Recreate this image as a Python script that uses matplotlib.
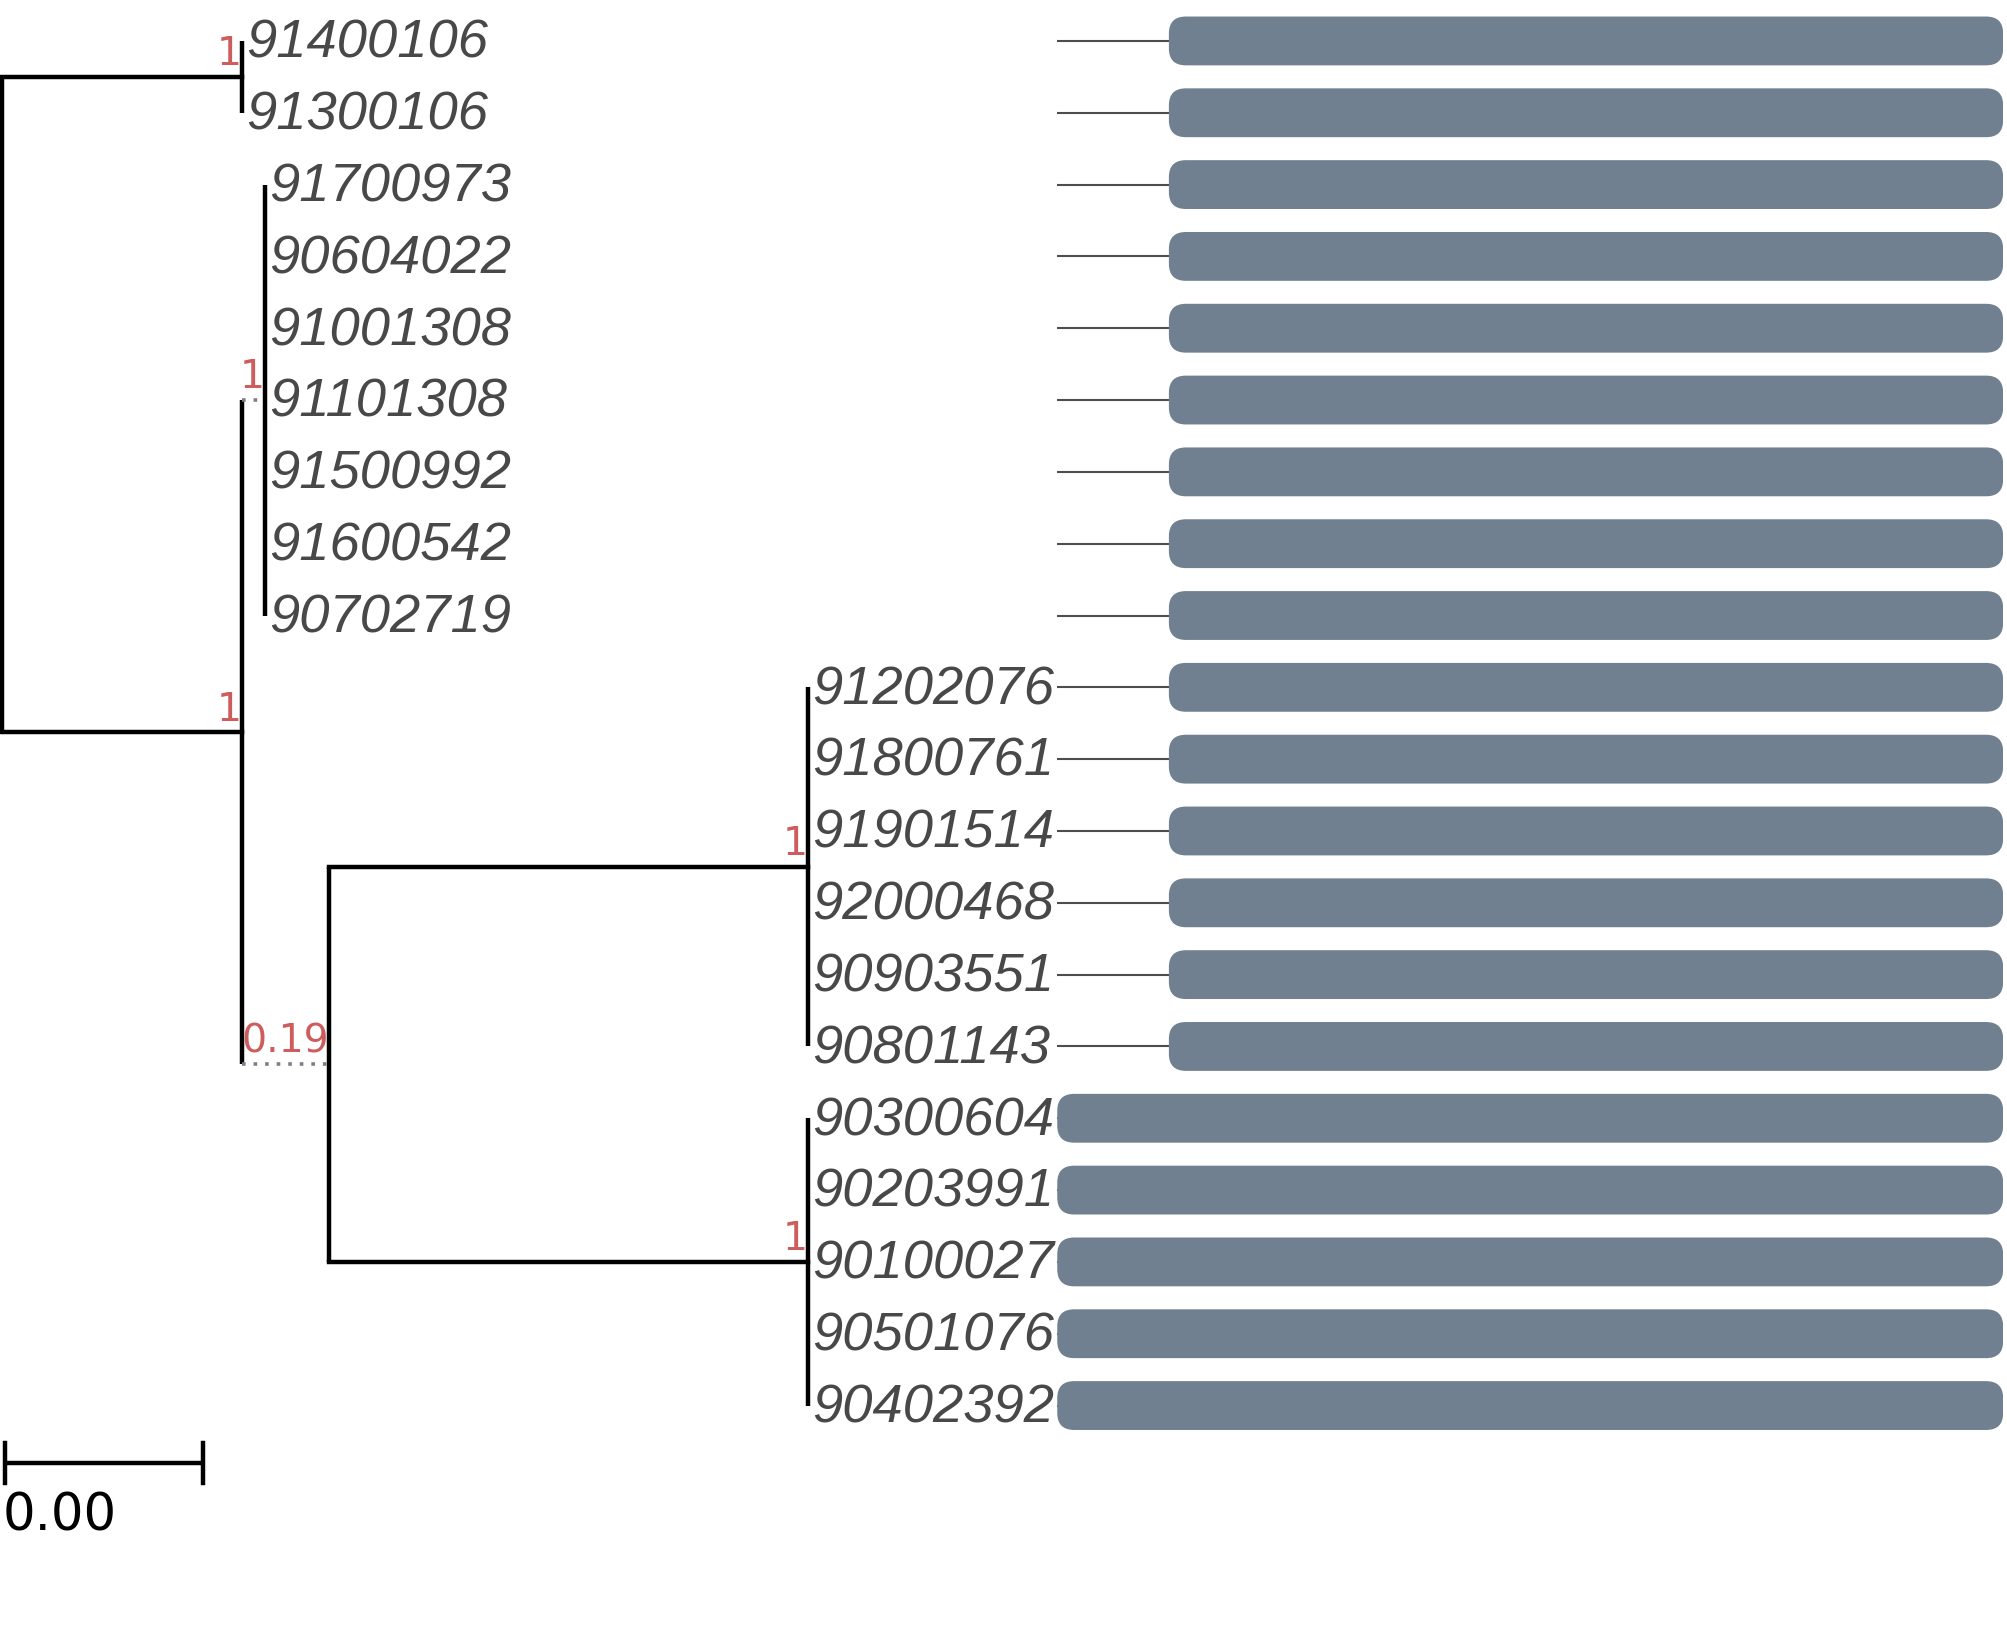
import matplotlib
matplotlib.use('Agg')
import matplotlib.pyplot as plt
from matplotlib.patches import FancyBboxPatch

# tip labels, top to bottom
tip_labels = ['91400106', '91300106',
              '91700973', '90604022', '91001308', '91101308', '91500992', '91600542', '90702719',
              '91202076', '91800761', '91901514', '92000468', '90903551', '90801143',
              '90300604', '90203991', '90100027', '90501076', '90402392']
tip_parent = ['A'] * 2 + ['B1'] * 7 + ['B2a'] * 6 + ['B2b'] * 5

# internal nodes
node_names = ['root', 'A', 'B', 'B1', 'B2', 'B2a', 'B2b']
node_parent = [None, 'root', 'root', 'B', 'B', 'B2', 'B2']
node_depth = [0.0, 0.00483, 0.00483, 0.00529, 0.00658, 0.01623, 0.01623]
node_support = ['', '1', '1', '1', '0.19', '1', '1']
node_dotted = [False, False, False, True, True, False, False]

# segments drawn on the right track
seg_start = [118] * 15 + [0] * 5
seg_end = [1000] * 20
track_len = 1000

scale_width = 0.004

W, H = 2007, 1644
dpi = 200
fig = plt.figure(figsize=(W / dpi, H / dpi), dpi=dpi)

ylim = (22.32, -0.57)
ax_t = fig.add_axes([0, 0, 826 / 1568, 1])
ax_t.set_xlim(-0.00005, 0.02126)
ax_t.set_ylim(*ylim)
ax_t.axis('off')

ax_g = fig.add_axes([826 / 1568, 0, (1565 - 826) / 1568, 1])
ax_g.set_xlim(0, track_len)
ax_g.set_ylim(*ylim)
ax_g.axis('off')

# layout of the tree
depth = dict(zip(node_names, node_depth))
parent = dict(zip(node_names, node_parent))
children = {n: [] for n in node_names}
for n, p in zip(node_names, node_parent):
    if p is not None:
        children[p].append(('node', n))
for i, p in enumerate(tip_parent):
    children[p].append(('tip', i))

ypos = {}
def get_y(kind, key):
    if kind == 'tip':
        return float(key)
    if key not in ypos:
        ys = [get_y(k, c) for k, c in children[key]]
        ypos[key] = sum(ys) / len(ys)
    return ypos[key]

get_y('node', 'root')

lw = 1.6
for n, sup, dotted in zip(node_names, node_support, node_dotted):
    ys = [get_y(k, c) for k, c in children[n]]
    ax_t.plot([depth[n], depth[n]], [min(ys), max(ys)], color='black', lw=lw,
              solid_capstyle='butt')
    p = parent[n]
    if p is not None:
        if dotted:
            ax_t.plot([depth[p], depth[n]], [ypos[n], ypos[n]], color='#7d7d88',
                      lw=1.3, linestyle=(0, (1, 2.2)))
        else:
            ax_t.plot([depth[p], depth[n]], [ypos[n], ypos[n]], color='black', lw=lw,
                      solid_capstyle='projecting')
    if sup:
        ax_t.text(depth[n], ypos[n] - 0.05, sup, ha='right', va='bottom', color='#CD5C5C',
                  fontsize=14.2, family='DejaVu Sans')

for i, (name, p) in enumerate(zip(tip_labels, tip_parent)):
    ax_t.annotate(name, (depth[p], i), xytext=(1.6, -1.0), textcoords='offset points',
                  ha='left', va='center', fontsize=19.6, style='italic',
                  family='Liberation Sans', color='#484848')

# scale bar
sy = 19.8
ax_t.plot([0.00005, 0.00005 + scale_width], [sy, sy], color='black', lw=lw,
          solid_capstyle='butt')
for sx in [0.00005, 0.00005 + scale_width]:
    ax_t.plot([sx, sx], [sy - 0.285, sy + 0.285], color='black', lw=lw)
ax_t.text(0.0, 20.2, f'{scale_width:.2f}', ha='left', va='top', fontsize=18.5,
          family='DejaVu Sans', color='black')

# track: line plus rounded segment
ax_px_w = W * (1565 - 826) / 1568
x_per_px = track_len / ax_px_w
y_per_px = (ylim[0] - ylim[1]) / H
asp = y_per_px / x_per_px
r = 17 * x_per_px
h = 0.68
for i, (s, e) in enumerate(zip(seg_start, seg_end)):
    ax_g.plot([0, e], [i, i], color='#4d4d4d', lw=0.75, zorder=1)
    box = FancyBboxPatch((s, i - h / 2), e - s, h,
                         boxstyle=f'round,pad=0,rounding_size={r}',
                         mutation_aspect=asp, fc='#708090', ec='none', zorder=2)
    ax_g.add_patch(box)

fig.savefig('out.png', dpi=dpi)
